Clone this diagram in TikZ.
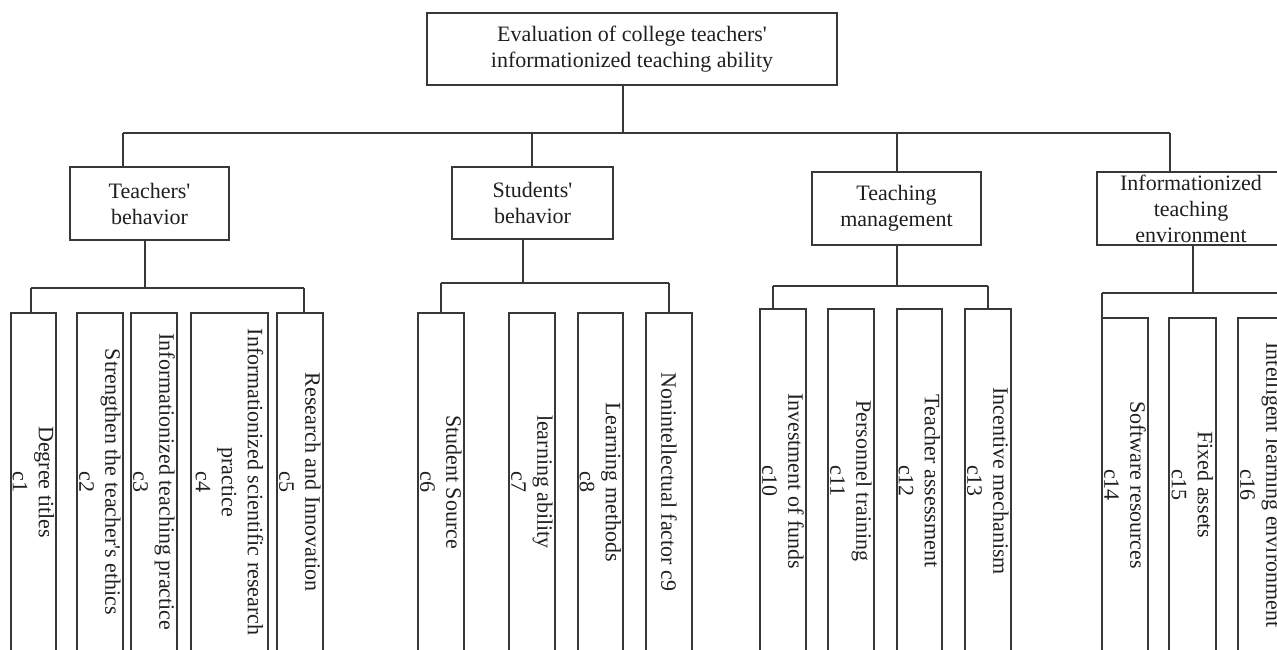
\documentclass[tikz,border=0pt]{standalone}
\usepackage{fontspec}
\setmainfont{Liberation Serif}
\newcommand{\apos}{\textquotesingle}
\begin{document}
\begin{tikzpicture}[x=1pt,y=-1pt,
  every node/.style={font=\fontsize{22}{26}\selectfont, text=black!88},
  box/.style={draw=black!78, line width=1.2pt, inner sep=0pt, align=center},
  leaf/.style={box, rotate=-90},
  conn/.style={draw=black!78, line width=1.2pt}]
\clip (0,0) rectangle (1277,649);
% root
\node[box, minimum width=410pt, minimum height=72pt] (root) at (632,49)
  {Evaluation of college teachers\apos\\informationized teaching ability};
% level 1
\node[box, minimum width=159pt, minimum height=73pt] (b1) at (149.5,203.5) {Teachers\apos\\behavior};
\node[box, minimum width=161pt, minimum height=72pt] (b2) at (532.5,203) {Students\apos\\behavior};
\node[box, minimum width=169pt, minimum height=73pt] (b3) at (896.5,208.5) {Teaching\\management};
\node[box, minimum width=188pt, minimum height=73pt] (b4) at (1191,208.5) {Informationized\\teaching\\environment};
% leaves: teachers
\node[leaf, minimum width=338pt, minimum height=45pt] (c1) at (33.5,482) {Degree titles\\c1};
\node[leaf, minimum width=338pt, minimum height=46pt] (c2) at (100,482) {Strengthen the teacher\apos s ethics\\c2};
\node[leaf, minimum width=338pt, minimum height=46pt] (c3) at (154,482) {Informationized teaching practice\\c3};
\node[leaf, minimum width=338pt, minimum height=77pt] (c4) at (229.5,482) {Informationized scientific research\\practice\\c4};
\node[leaf, minimum width=338pt, minimum height=46pt] (c5) at (300,482) {Research and Innovation\\c5};
% leaves: students
\node[leaf, minimum width=338pt, minimum height=46pt] (c6) at (441,482) {Student Source\\c6};
\node[leaf, minimum width=338pt, minimum height=46pt] (c7) at (532,482) {learning ability\\c7};
\node[leaf, minimum width=338pt, minimum height=45pt] (c8) at (600.5,482) {Learning methods\\c8};
\node[leaf, minimum width=338pt, minimum height=46pt] (c9) at (669,482) {Nonintellectual factor c9};
% leaves: teaching management
\node[leaf, minimum width=344pt, minimum height=46pt] (c10) at (783,481) {Investment of funds\\c10};
\node[leaf, minimum width=344pt, minimum height=46pt] (c11) at (851,481) {Personnel training\\c11};
\node[leaf, minimum width=344pt, minimum height=45pt] (c12) at (919.5,481) {Teacher assessment\\c12};
\node[leaf, minimum width=344pt, minimum height=46pt] (c13) at (988,481) {Incentive mechanism\\c13};
% leaves: environment
\node[leaf, minimum width=334pt, minimum height=46pt] (c14) at (1125,485) {Software resources\\c14};
\node[leaf, minimum width=334pt, minimum height=47pt] (c15) at (1192.5,485) {Fixed assets\\c15};
\node[leaf, minimum width=334pt, minimum height=46pt] (c16) at (1261,485) {Intelligent learning environment\\c16};
% bar coordinates
\coordinate (r0) at (623,133);
\coordinate (rL) at (123,133);
\coordinate (rB) at (532,133);
\coordinate (rC) at (897,133);
\coordinate (rR) at (1170,133);
\coordinate (t0) at (145,288);
\coordinate (tL) at (31,288);
\coordinate (tR) at (304,288);
\coordinate (s0) at (523,283);
\coordinate (sL) at (441,283);
\coordinate (sR) at (669,283);
\coordinate (m0) at (897,286);
\coordinate (mL) at (773,286);
\coordinate (mR) at (988,286);
\coordinate (e0) at (1193,293);
\coordinate (eL) at (1102,293);
\coordinate (eR) at (1290,293);
% root connectors
\draw[conn] (r0 |- root.south) -- (r0);
\draw[conn] (rL) -- (rR);
\draw[conn] (rL) -- (rL |- b1.north);
\draw[conn] (rB) -- (rB |- b2.north);
\draw[conn] (rC) -- (rC |- b3.north);
\draw[conn] (rR) -- (rR |- b4.north);
% teachers
\draw[conn] (t0 |- b1.south) -- (t0);
\draw[conn] (tL) -- (tR);
\draw[conn] (tL) -- (tL |- c1.west);
\draw[conn] (tR) -- (tR |- c5.west);
% students
\draw[conn] (s0 |- b2.south) -- (s0);
\draw[conn] (sL) -- (sR);
\draw[conn] (sL) -- (sL |- c6.west);
\draw[conn] (sR) -- (sR |- c9.west);
% teaching management
\draw[conn] (m0 |- b3.south) -- (m0);
\draw[conn] (mL) -- (mR);
\draw[conn] (mL) -- (mL |- c10.west);
\draw[conn] (mR) -- (mR |- c13.west);
% environment
\draw[conn] (e0 |- b4.south) -- (e0);
\draw[conn] (eL) -- (eR);
\draw[conn] (eL) -- (eL |- c14.west);
\end{tikzpicture}
\end{document}
